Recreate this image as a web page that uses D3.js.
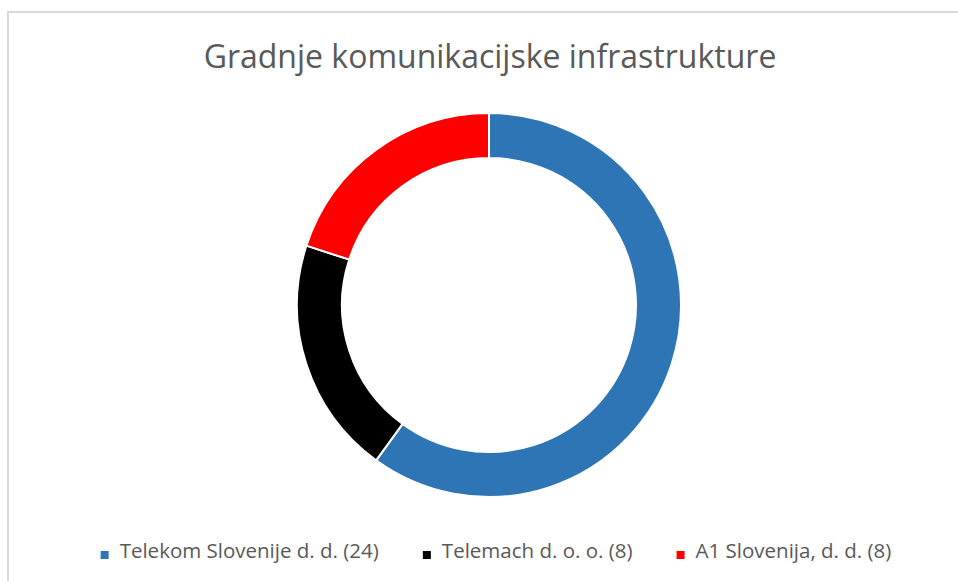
<!DOCTYPE html>
<html>
<head>
<meta charset="utf-8">
<script src="https://cdn.jsdelivr.net/npm/d3@7"></script>
<style>
  html, body { margin: 0; padding: 0; background: #fff; }
  svg { display: block; }
  text { font-family: "Segoe UI", "Open Sans", "Noto Sans", sans-serif; fill: #595959; }
</style>
</head>
<body>
<div id="chart"></div>
<script>
const categories = ["Telekom Slovenije d. d.", "Telemach d. o. o.", "A1 Slovenija, d. d."];
const values = [24, 8, 8];
const colors = ["#2e75b6", "#000000", "#ff0000"];
const title = "Gradnje komunikacijske infrastrukture";

const w = 958, h = 581;
const cx = 489, cy = 305;
const outerR = 192, innerR = 147;

const svg = d3.select("#chart").append("svg")
    .attr("width", w)
    .attr("height", h);

// frame (right and bottom edges fall outside the window)
svg.append("rect")
    .attr("x", 8).attr("y", 12)
    .attr("width", w + 20).attr("height", h + 20)
    .attr("fill", "none")
    .attr("stroke", "#d9d9d9")
    .attr("stroke-width", 2);

// TITLE
svg.append("text")
    .attr("x", 490)
    .attr("y", 68)
    .attr("text-anchor", "middle")
    .style("font-size", "32px")
    .text(title);

// DONUT
const data = categories.map((c, i) => ({ name: c, value: values[i], color: colors[i] }));
const pie = d3.pie().value(d => d.value).sort(null);
const arc = d3.arc().innerRadius(innerR).outerRadius(outerR);

svg.append("g")
    .attr("transform", "translate(" + cx + "," + cy + ")")
    .selectAll("path")
    .data(pie(data)).enter().append("path")
    .attr("d", arc)
    .attr("fill", d => d.data.color)
    .attr("stroke", "#fff")
    .attr("stroke-width", 2);

// LEGEND
const legend = svg.append("g");
const items = legend.selectAll("g")
    .data(data).enter().append("g");
items.append("rect")
    .attr("width", 8).attr("height", 8)
    .attr("y", -7)
    .attr("fill", d => d.color);
items.append("text")
    .attr("x", 19)
    .attr("y", 0)
    .style("font-size", "20.5px")
    .text(d => d.name + " (" + d.value + ")");

let pos = 0;
const gap = 44;
items.each(function () {
    const g = d3.select(this);
    g.attr("transform", "translate(" + pos + ",0)");
    pos += 19 + g.select("text").node().getComputedTextLength() + gap;
});
const total = pos - gap;
legend.attr("transform", "translate(" + (496 - total / 2) + ",558)");
</script>
</body>
</html>
